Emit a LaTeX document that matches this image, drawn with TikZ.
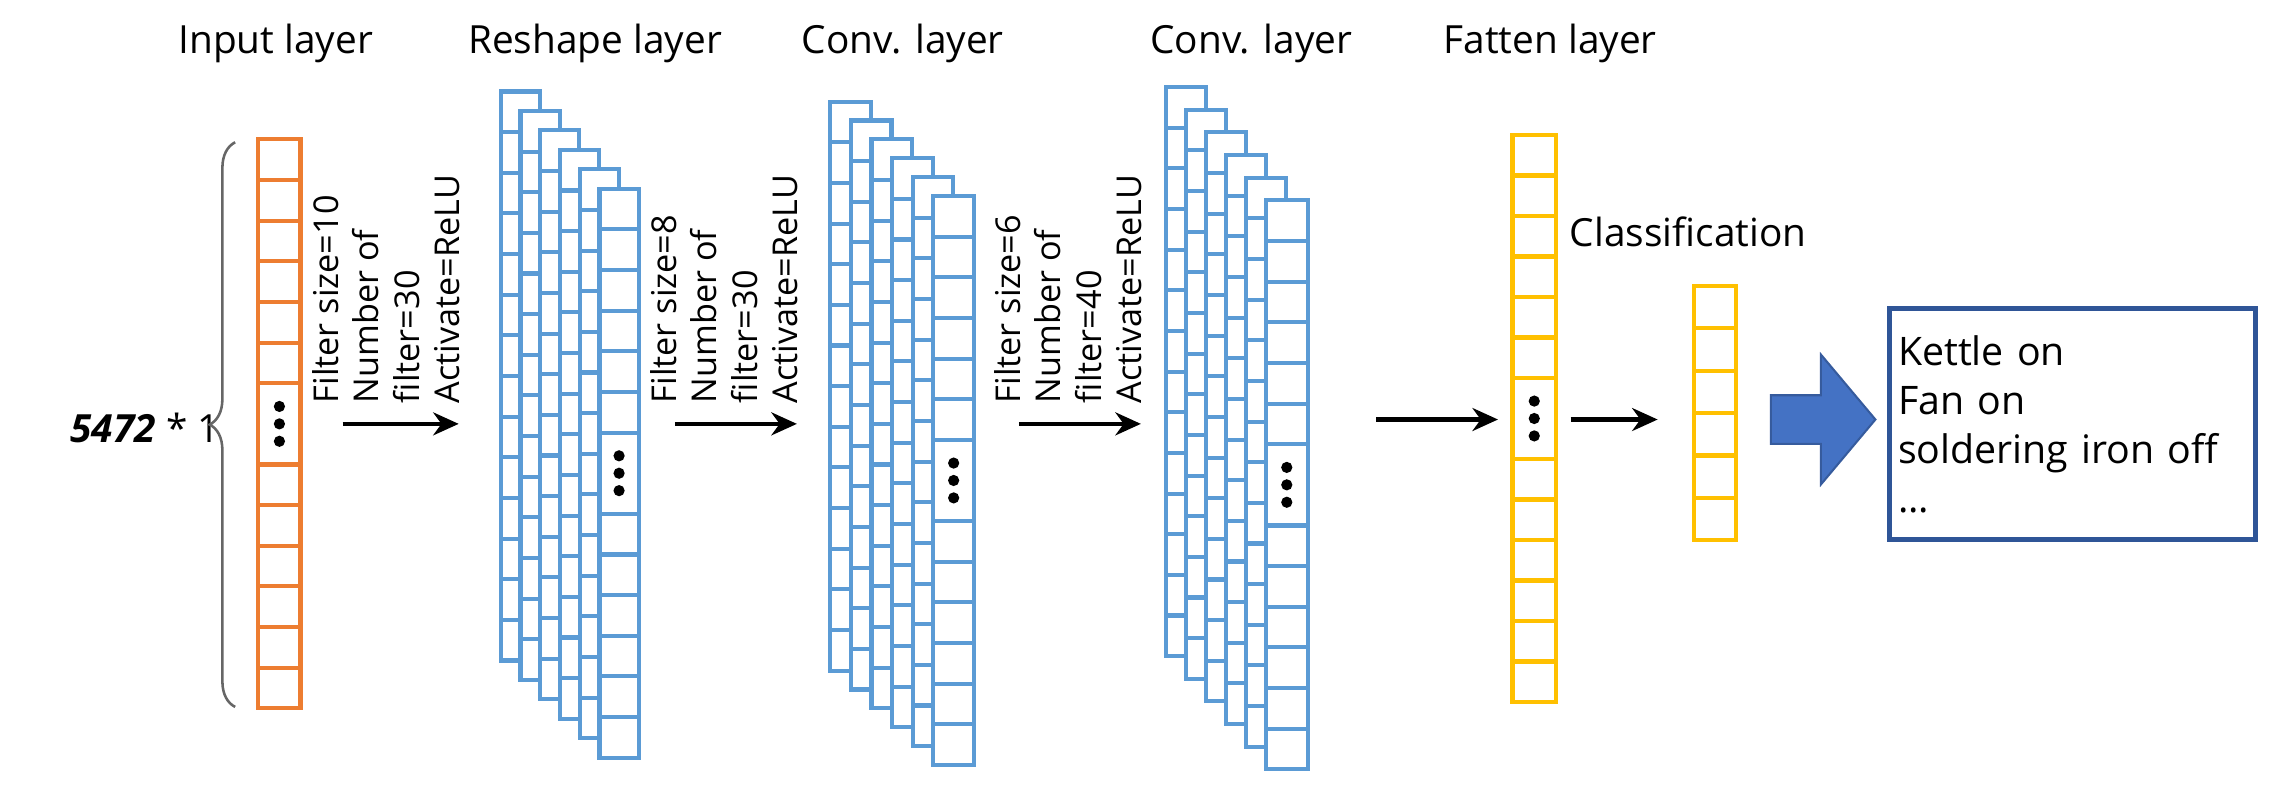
\documentclass[tikz,border=0pt]{standalone}
\usepackage{fontspec}
\setmainfont{Open Sans}
\usetikzlibrary{arrows.meta,shapes.arrows,decorations.pathreplacing}

\definecolor{inorange}{HTML}{ED7D31}
\definecolor{convblue}{HTML}{5B9BD5}
\definecolor{flatyellow}{HTML}{FFC000}
\definecolor{bigblue}{HTML}{4472C4}
\definecolor{boxblue}{HTML}{2F5597}

% column of cells: name, x, top y, width, cell height, colour, cells, merged cell (0 = none)
\newcommand{\cellcol}[8]{%
  \draw[#6, fill=white, line width=0.8pt] (#2,#3) rectangle ++(#4,#7*#5);
  \pgfmathtruncatemacro\lastk{#7-1}%
  \foreach \k in {1,...,\lastk}{%
    \ifnum\k=#8 \else \draw[#6, line width=0.8pt] (#2,#3+\k*#5) -- ++(#4,0);\fi}
  \coordinate (#1) at (#2+#4/2,#3+#7*#5/2);
  \ifnum#8>0 \foreach \d in {-12,0,12}{\fill ([yshift=-\d*0.01cm]#1) circle (1.1pt);}\fi
}

\begin{document}
\begin{tikzpicture}[
    x=0.01cm, y=-0.01cm,
    title/.style={font=\fontsize{7.6}{9}\selectfont},
    param/.style={font=\fontsize{6.7}{7.9}\selectfont, rotate=90, anchor=west, align=left, inner sep=1pt},
    arrow/.style={-{Stealth[length=5pt,width=4.5pt]}, line width=0.8pt}
]
\useasboundingbox (0,0) rectangle (1568,544);

% Titles
\node[title] (t_input) at (190,30) {Input layer};
\node[title] (t_reshape) at (410,30) {Reshape layer};
\node[title] (t_conv1) at (622,30) {Conv. layer};
\node[title] (t_conv2) at (862,30) {Conv. layer};
\node[title] (t_flat) at (1068,30) {Fatten layer};
\node[title] (t_class) at (1163,160) {Classification};

% Input
\node[title] (size) at (100,295) {\textbf{\textit{5472}} * 1};
\draw[gray!80!black, line width=0.5pt, decorate, decoration={brace, amplitude=5}] (162,487) -- (162,98);
\cellcol{input}{178}{96}{29}{28}{inorange}{14}{7}

% Reshape layer
\foreach \i in {0,...,4}{
  \cellcol{reshape\i}{345+13.6*\i}{63+13.4*\i}{27}{28}{convblue}{14}{0}}
\cellcol{reshape}{413}{130}{27}{28}{convblue}{14}{7}

% Conv. layers
\foreach \i in {0,...,4}{
  \cellcol{convA\i}{572+14.2*\i}{70+13*\i}{28}{28}{convblue}{14}{0}}
\cellcol{convA}{643}{135}{28}{28}{convblue}{14}{7}
\foreach \i in {0,...,4}{
  \cellcol{convB\i}{803+13.8*\i}{60+15.6*\i}{28}{28}{convblue}{14}{0}}
\cellcol{convB}{872}{138}{29}{28}{convblue}{14}{7}

% Flatten and output
\cellcol{flat}{1042}{93}{30}{27.9}{flatyellow}{14}{7}
\cellcol{out}{1167}{197}{29}{29.2}{flatyellow}{6}{0}

% Parameters
\coordinate (a1s) at (236,292); \coordinate (a1e) at (316,292);
\coordinate (a2s) at (465,292); \coordinate (a2e) at (549,292);
\coordinate (a3s) at (702,292); \coordinate (a3e) at (786,292);
\coordinate (a4s) at (948,289); \coordinate (a4e) at (1032,289);
\coordinate (a5s) at (1082,289); \coordinate (a5e) at (1142,289);
\node[param] (p1) at (266,282) {Filter size=10\\Number of\\filter=30\\Activate=ReLU};
\node[param] (p2) at (499,282) {Filter size=8\\Number of\\filter=30\\Activate=ReLU};
\node[param] (p3) at (736,282) {Filter size=6\\Number of\\filter=40\\Activate=ReLU};

% Connections
\draw[arrow] (a1s) -- (a1e);
\draw[arrow] (a2s) -- (a2e);
\draw[arrow] (a3s) -- (a3e);
\draw[arrow] (a4s) -- (a4e);
\draw[arrow] (a5s) -- (a5e);

% Result
\node[single arrow, fill=bigblue, draw=bigblue!80!black, line width=0.4pt,
      minimum width=0.88cm, minimum height=0.72cm, inner xsep=0pt, inner ysep=0.16cm,
      single arrow head extend=0.28cm, single arrow tip angle=100] (big) at (1249,289) {};
\node[draw=boxblue, line width=0.9pt, anchor=north west, minimum width=2.52cm,
      minimum height=1.59cm, text width=2.4cm, align=left, inner xsep=0.06cm,
      font=\fontsize{7.7}{9.6}\selectfont] (result) at (1300,211)
      {Kettle on\\Fan on\\soldering iron off\\...};
\end{tikzpicture}
\end{document}
